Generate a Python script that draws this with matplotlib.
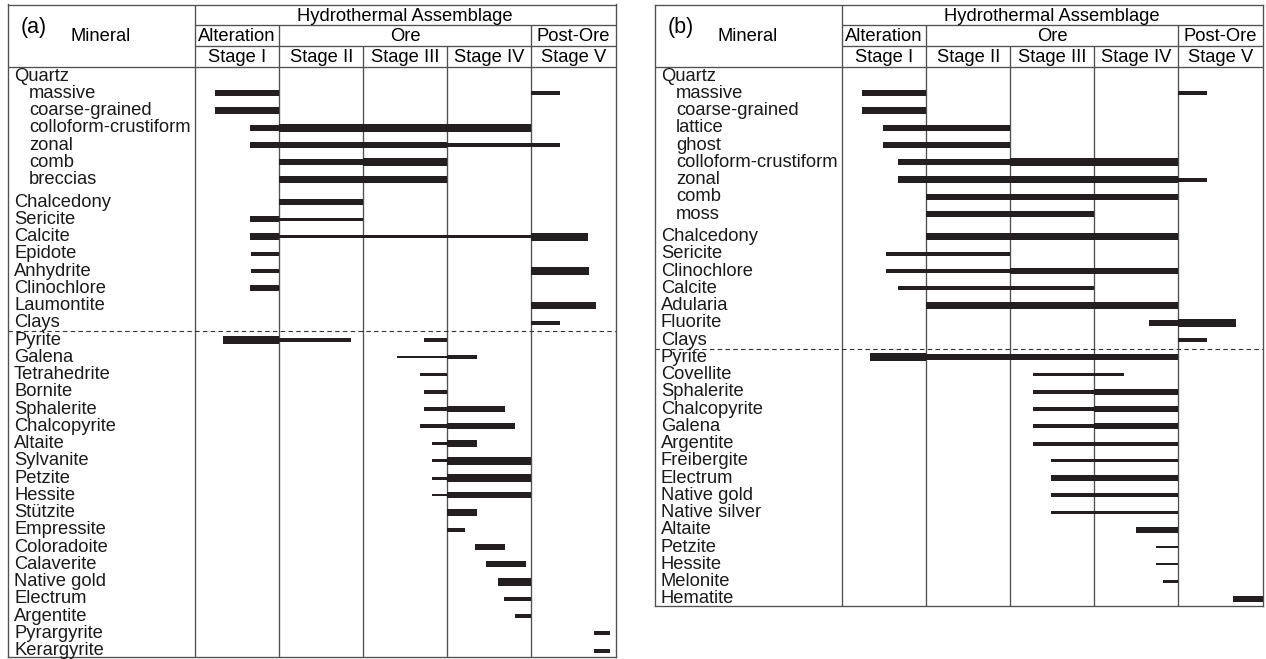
import matplotlib
matplotlib.use('Agg')
import matplotlib.pyplot as plt

# ===== data read off the two paragenetic tables =====
# x values are in stage units: 0 = start of Stage I, 1 = end of Stage I ... 5 = end of Stage V
stages = ['Stage I', 'Stage II', 'Stage III', 'Stage IV', 'Stage V']
stage_groups = ['Alteration', 'Ore', 'Post-Ore']
group_spans = [(0, 1), (1, 4), (4, 5)]

minerals_a = ['Quartz', 'massive', 'coarse-grained', 'colloform-crustiform', 'zonal',
              'comb', 'breccias', 'Chalcedony', 'Sericite', 'Calcite', 'Epidote',
              'Anhydrite', 'Clinochlore', 'Laumontite', 'Clays', 'Pyrite', 'Galena',
              'Tetrahedrite', 'Bornite', 'Sphalerite', 'Chalcopyrite', 'Altaite',
              'Sylvanite', 'Petzite', 'Hessite', 'Stützite', 'Empressite', 'Coloradoite',
              'Calaverite', 'Native gold', 'Electrum', 'Argentite', 'Pyrargyrite',
              'Kerargyrite']
varieties_a = ['massive', 'coarse-grained', 'colloform-crustiform', 'zonal', 'comb', 'breccias']

# (mineral, start, end, abundance class 1..5)
segments_a = [
    ('massive', 0.24, 1.0, 4), ('massive', 4.0, 4.34, 3),
    ('coarse-grained', 0.24, 1.0, 4),
    ('colloform-crustiform', 0.65, 1.0, 4), ('colloform-crustiform', 1.0, 4.0, 5),
    ('zonal', 0.65, 3.0, 4), ('zonal', 3.0, 4.34, 3),
    ('comb', 1.0, 2.0, 4), ('comb', 2.0, 3.0, 5),
    ('breccias', 1.0, 3.0, 4),
    ('Chalcedony', 1.0, 2.0, 4),
    ('Sericite', 0.65, 1.0, 4), ('Sericite', 1.0, 2.0, 2),
    ('Calcite', 0.65, 1.0, 4), ('Calcite', 1.0, 4.0, 1), ('Calcite', 4.0, 4.67, 5),
    ('Epidote', 0.67, 1.0, 3),
    ('Anhydrite', 0.67, 1.0, 3), ('Anhydrite', 4.0, 4.68, 5),
    ('Clinochlore', 0.65, 1.0, 4),
    ('Laumontite', 4.0, 4.77, 4),
    ('Clays', 4.0, 4.34, 3),
    ('Pyrite', 0.33, 1.0, 5), ('Pyrite', 1.0, 1.85, 3), ('Pyrite', 2.72, 3.0, 3),
    ('Galena', 2.4, 3.0, 1), ('Galena', 3.0, 3.35, 3),
    ('Tetrahedrite', 2.67, 3.0, 2),
    ('Bornite', 2.72, 3.0, 3),
    ('Sphalerite', 2.72, 3.0, 3), ('Sphalerite', 3.0, 3.68, 4),
    ('Chalcopyrite', 2.67, 3.0, 3), ('Chalcopyrite', 3.0, 3.81, 4),
    ('Altaite', 2.82, 3.0, 2), ('Altaite', 3.0, 3.35, 4),
    ('Sylvanite', 2.82, 3.0, 2), ('Sylvanite', 3.0, 4.0, 5),
    ('Petzite', 2.82, 3.0, 2), ('Petzite', 3.0, 4.0, 5),
    ('Hessite', 2.82, 3.0, 1), ('Hessite', 3.0, 4.0, 4),
    ('Stützite', 3.0, 3.35, 4),
    ('Empressite', 3.0, 3.21, 3),
    ('Coloradoite', 3.33, 3.68, 4),
    ('Calaverite', 3.46, 3.94, 4),
    ('Native gold', 3.6, 4.0, 5),
    ('Electrum', 3.67, 4.0, 3),
    ('Argentite', 3.8, 4.0, 3),
    ('Pyrargyrite', 4.74, 4.94, 3),
    ('Kerargyrite', 4.74, 4.94, 3),
]

minerals_b = ['Quartz', 'massive', 'coarse-grained', 'lattice', 'ghost',
              'colloform-crustiform', 'zonal', 'comb', 'moss', 'Chalcedony', 'Sericite',
              'Clinochlore', 'Calcite', 'Adularia', 'Fluorite', 'Clays', 'Pyrite',
              'Covellite', 'Sphalerite', 'Chalcopyrite', 'Galena', 'Argentite',
              'Freibergite', 'Electrum', 'Native gold', 'Native silver', 'Altaite',
              'Petzite', 'Hessite', 'Melonite', 'Hematite']
varieties_b = ['massive', 'coarse-grained', 'lattice', 'ghost', 'colloform-crustiform',
               'zonal', 'comb', 'moss']

segments_b = [
    ('massive', 0.24, 1.0, 4), ('massive', 4.0, 4.34, 3),
    ('coarse-grained', 0.24, 1.0, 4),
    ('lattice', 0.49, 2.0, 4),
    ('ghost', 0.49, 2.0, 4),
    ('colloform-crustiform', 0.66, 2.0, 4), ('colloform-crustiform', 2.0, 4.0, 5),
    ('zonal', 0.66, 4.0, 4), ('zonal', 4.0, 4.34, 3),
    ('comb', 1.0, 4.0, 4),
    ('moss', 1.0, 3.0, 4),
    ('Chalcedony', 1.0, 4.0, 4),
    ('Sericite', 0.52, 2.0, 3),
    ('Clinochlore', 0.52, 2.0, 3), ('Clinochlore', 2.0, 4.0, 4),
    ('Calcite', 0.66, 3.0, 3),
    ('Adularia', 1.0, 4.0, 4),
    ('Fluorite', 3.65, 4.0, 4), ('Fluorite', 4.0, 4.68, 5),
    ('Clays', 4.0, 4.34, 3),
    ('Pyrite', 0.33, 1.0, 5), ('Pyrite', 1.0, 4.0, 4),
    ('Covellite', 2.27, 3.35, 1),
    ('Sphalerite', 2.27, 3.0, 3), ('Sphalerite', 3.0, 4.0, 4),
    ('Chalcopyrite', 2.27, 3.0, 3), ('Chalcopyrite', 3.0, 4.0, 4),
    ('Galena', 2.27, 3.0, 3), ('Galena', 3.0, 4.0, 4),
    ('Argentite', 2.27, 4.0, 3),
    ('Freibergite', 2.49, 4.0, 2),
    ('Electrum', 2.49, 4.0, 4),
    ('Native gold', 2.49, 4.0, 3),
    ('Native silver', 2.49, 4.0, 1),
    ('Altaite', 3.49, 4.0, 4),
    ('Petzite', 3.73, 4.0, 1),
    ('Hessite', 3.73, 4.0, 1),
    ('Melonite', 3.82, 4.0, 1),
    ('Hematite', 4.65, 5.0, 4),
]

# ===== style =====
plt.rcParams['font.family'] = ['Liberation Sans', 'DejaVu Sans']
plt.rcParams['font.size'] = 13.2

W, H = 1266, 659          # figure size in px
UX, UY = 84.1, 17.25      # px per stage, px per row
TOP = 4.5
X_LEFT = -2.224           # mineral column width in stage units
BAR = '#231f20'
LC = '#505050'
LW = 0.95
bar_px = {1: 2.2, 2: 3.0, 3: 4.0, 4: 6.2, 5: 8.0}

fig = plt.figure(figsize=(W / 100, H / 100), dpi=100)


def draw_panel(tag, minerals, varieties, segments, left_px):
    gap = minerals.index('Chalcedony')
    ys = [i + (0.3 if i >= gap else 0.0) for i in range(len(minerals))]
    ypos = dict(zip(minerals, ys))
    y_top, y_bot = -4.15, ys[-1] + 0.4

    w_px = (5 - X_LEFT) * UX
    h_px = (y_bot - y_top) * UY
    ax = fig.add_axes([left_px / W, 1 - (TOP + h_px) / H, w_px / W, h_px / H])
    ax.set_xlim(X_LEFT, 5)
    ax.set_ylim(y_bot, y_top)
    ax.set_xticks([])
    ax.set_yticks([])
    for s in ax.spines.values():
        s.set_linewidth(LW)
        s.set_color(LC)

    # table rules
    ax.vlines(0, y_top, y_bot, color=LC, lw=LW, zorder=1)
    ax.vlines([1, 4], -2.96, y_bot, color=LC, lw=LW, zorder=1)
    ax.vlines([2, 3], -1.74, y_bot, color=LC, lw=LW, zorder=1)
    ax.hlines([-2.96, -1.74], 0, 5, color=LC, lw=LW, zorder=1)
    ax.hlines(-0.52, X_LEFT, 5, color=LC, lw=LW, zorder=1)
    dash_y = (ypos['Clays'] + ypos['Pyrite']) / 2
    ax.hlines(dash_y, X_LEFT, 5, color='#333333', lw=0.8,
              linestyles=(0, (4, 3)), zorder=1)

    # bars
    for name, x0, x1, ab in segments:
        ax.barh(ypos[name], x1 - x0, left=x0, height=bar_px[ab] / UY,
                color=BAR, linewidth=0, zorder=3)

    # mineral labels
    for name, y in zip(minerals, ys):
        x = X_LEFT + (21 if name in varieties else 6) / UX
        ax.text(x, y + 0.27, name, ha='left', va='baseline', color='#1a1a1a')

    # header
    ax.text(2.5, -3.22, 'Hydrothermal Assemblage', ha='center', va='baseline')
    for g, (s0, s1) in zip(stage_groups, group_spans):
        ax.text((s0 + s1) / 2, -2.06, g, ha='center', va='baseline')
    for i, st in enumerate(stages):
        ax.text(i + 0.5, -0.84, st, ha='center', va='baseline')
    ax.text(-2.07, -2.5, tag, ha='left', va='baseline', fontsize=15.5)
    ax.text(-1.475, -2.06, 'Mineral', ha='left', va='baseline')
    return ax


draw_panel('(a)', minerals_a, varieties_a, segments_a, 8)
draw_panel('(b)', minerals_b, varieties_b, segments_b, 655)

fig.savefig('out.png', dpi=100)
